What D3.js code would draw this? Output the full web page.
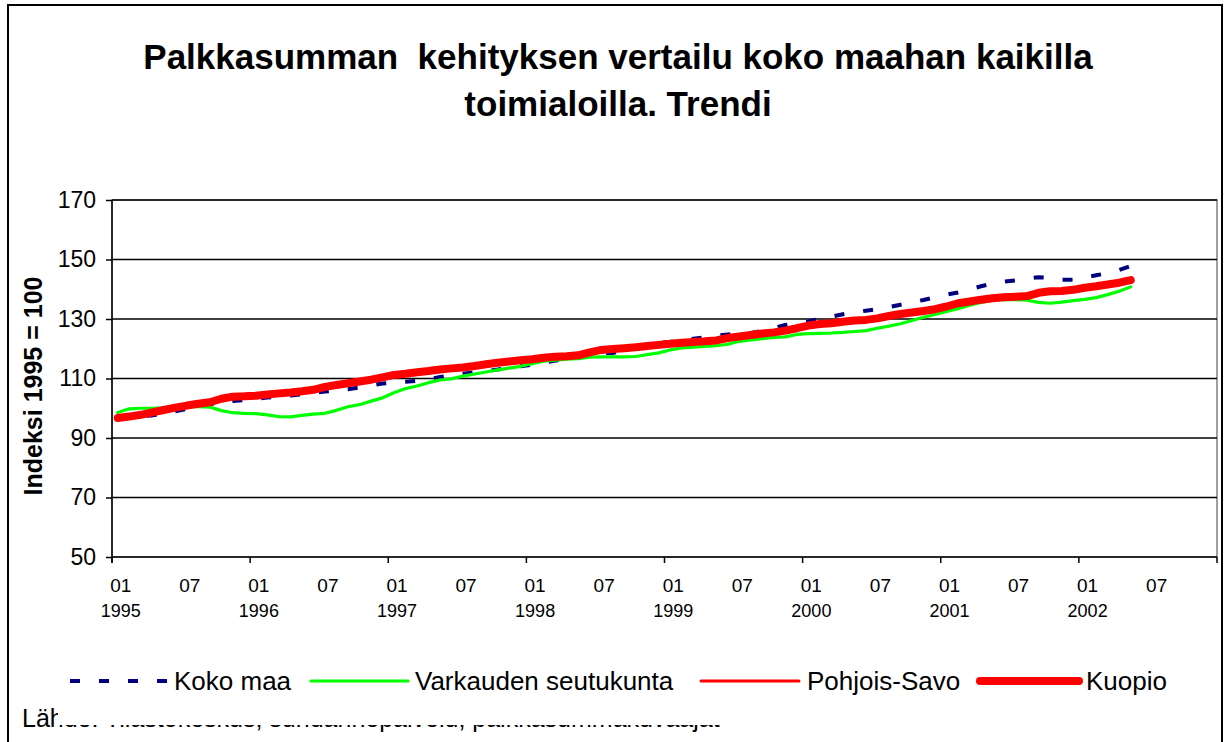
<!DOCTYPE html>
<html>
<head>
<meta charset="utf-8">
<script src="https://cdn.jsdelivr.net/npm/d3@7"></script>
<style>
  body { margin: 0; background: #fff; }
  svg { display: block; font-family: Arial, "Liberation Sans", sans-serif; }
</style>
</head>
<body>
<script>
// data (monthly index, 1995 = 100)
var years = [1995, 1996, 1997, 1998, 1999, 2000, 2001, 2002];
var labelMonths = ["01", "07"];
var yTicks = [50, 70, 90, 110, 130, 150, 170];

var kokoMaa = [96.6, 97.0, 97.4, 97.6, 98.2, 99.0, 99.8, 100.6, 101.3, 101.9, 102.4, 102.8,
  103.2, 103.6, 104.0, 104.3, 104.7, 105.2, 105.6, 106.0, 106.4, 107.0, 107.7, 108.3,
  108.6, 108.9, 109.2, 109.8, 110.5, 111.0, 111.6, 112.1, 112.5, 113.0, 113.6, 114.1,
  114.6, 115.3, 116.0, 116.6, 117.2, 117.8, 118.4, 118.6, 119.3, 120.4, 121.4, 122.0,
  122.3, 122.8, 123.4, 123.8, 124.4, 124.8, 125.0, 125.3, 126.0, 127.0, 128.0, 128.6,
  129.2, 130.0, 130.8, 131.6, 132.2, 132.8, 133.3, 134.0, 134.8, 135.6, 136.4, 137.3,
  138.2, 138.9, 139.9, 141.0, 141.9, 142.6, 143.0, 143.6, 144.0, 143.8, 143.2, 143.2,
  144.0, 144.7, 145.4, 146.5, 147.8];

var varkaus = [98.6, 99.8, 100.0, 100.0, 100.1, 100.3, 100.5, 100.5, 100.4, 99.2, 98.5, 98.3,
  98.2, 97.8, 97.2, 97.1, 97.6, 98.0, 98.3, 99.3, 100.5, 101.2, 102.4, 103.5,
  105.2, 106.6, 107.5, 108.6, 109.5, 109.9, 110.8, 111.5, 112.2, 112.9, 113.5, 114.1,
  115.0, 115.8, 116.2, 116.5, 116.7, 117.2, 117.3, 117.3, 117.3, 117.4, 118.0, 118.6,
  119.6, 120.3, 120.5, 120.8, 121.0, 121.5, 122.5, 123.0, 123.4, 123.8, 124.0, 124.8,
  125.1, 125.2, 125.3, 125.5, 125.8, 126.1, 126.9, 127.6, 128.4, 129.5, 130.6, 131.5,
  132.5, 133.5, 134.6, 135.6, 136.3, 136.6, 136.5, 136.3, 135.6, 135.3, 135.7, 136.2,
  136.6, 137.2, 138.2, 139.3, 140.8];

var pohjoisSavo = [96.6, 97.1, 97.7, 98.5, 99.3, 100.1, 100.8, 101.4, 101.9, 103.0, 103.8, 103.9,
  104.1, 104.5, 104.9, 105.2, 105.6, 106.1, 107.0, 107.7, 108.3, 108.9, 109.5, 110.3,
  111.0, 111.5, 112.0, 112.4, 112.9, 113.3, 113.6, 114.1, 114.7, 115.2, 115.6, 116.0,
  116.4, 116.9, 117.2, 117.4, 117.7, 118.6, 119.4, 119.8, 120.1, 120.4, 120.8, 121.2,
  121.6, 121.9, 122.2, 122.4, 122.7, 123.5, 124.0, 124.5, 125.0, 125.4, 126.0, 126.8,
  127.6, 128.1, 128.5, 129.0, 129.4, 129.6, 130.1, 130.9, 131.6, 132.1, 132.6, 133.2,
  134.1, 135.1, 135.7, 136.3, 136.8, 137.1, 137.3, 137.5, 138.6, 139.1, 139.2, 139.6,
  140.3, 140.8, 141.4, 142.0, 142.9];

var kuopio = [96.7, 97.2, 97.8, 98.6, 99.4, 100.2, 100.9, 101.5, 102.0, 103.2, 103.9, 104.0,
  104.2, 104.6, 105.0, 105.3, 105.7, 106.2, 107.2, 107.8, 108.4, 109.0, 109.6, 110.4,
  111.2, 111.6, 112.1, 112.5, 113.0, 113.4, 113.7, 114.2, 114.8, 115.3, 115.7, 116.1,
  116.5, 117.0, 117.3, 117.5, 117.8, 118.8, 119.6, 119.9, 120.2, 120.5, 120.9, 121.3,
  121.7, 122.0, 122.3, 122.5, 122.8, 123.6, 124.1, 124.6, 125.1, 125.5, 126.1, 126.9,
  127.8, 128.3, 128.6, 129.1, 129.5, 129.7, 130.2, 131.0, 131.7, 132.2, 132.7, 133.3,
  134.2, 135.3, 135.9, 136.5, 137.0, 137.3, 137.5, 137.7, 138.8, 139.3, 139.4, 139.8,
  140.5, 141.0, 141.6, 142.2, 143.1];

var series = [
  { name: "Koko maa", values: kokoMaa, color: "#000080", width: 4, dash: "10,19" },
  { name: "Varkauden seutukunta", values: varkaus, color: "#00ff00", width: 3.2, dash: null },
  { name: "Pohjois-Savo", values: pohjoisSavo, color: "#ff0000", width: 3, dash: null },
  { name: "Kuopio", values: kuopio, color: "#ff0000", width: 8, dash: null }
];

var width = 1225, height = 742;
var plot = { left: 112, right: 1217, top: 200, bottom: 557 };

// one category per month, Jan 1995 .. Dec 2002
var months = [];
years.forEach(function (y) {
  d3.range(1, 13).forEach(function (m) {
    months.push(y + "-" + (m < 10 ? "0" + m : m));
  });
});

var svg = d3.select("body").append("svg")
  .attr("width", width)
  .attr("height", height);

// chart frame
svg.append("rect")
  .attr("x", 8).attr("y", 5)
  .attr("width", 1214).attr("height", 760)
  .attr("fill", "#fff")
  .attr("stroke", "#000")
  .attr("stroke-width", 2);

var x = d3.scaleBand().domain(months).range([plot.left, plot.right]);
var y = d3.scaleLinear().domain([50, 170]).range([plot.bottom, plot.top]);

function cx(i) { return x(months[i]) + x.bandwidth() / 2; }

// title
var title = svg.append("text")
  .attr("text-anchor", "middle")
  .attr("font-size", 35)
  .attr("font-weight", "bold");
title.append("tspan").attr("x", 618).attr("y", 69).text("Palkkasumman  kehityksen vertailu koko maahan kaikilla").attr("xml:space", "preserve");
title.append("tspan").attr("x", 618).attr("y", 116).text("toimialoilla. Trendi");

// plot area border
svg.append("rect")
  .attr("x", plot.left).attr("y", plot.top)
  .attr("width", plot.right - plot.left).attr("height", plot.bottom - plot.top)
  .attr("fill", "#fff")
  .attr("stroke", "#808080")
  .attr("stroke-width", 1.5);

// gridlines
svg.append("g")
  .selectAll("line")
  .data(yTicks.slice(1))
  .enter()
  .append("line")
  .attr("x1", plot.left).attr("x2", plot.right)
  .attr("y1", function (d) { return y(d); })
  .attr("y2", function (d) { return y(d); })
  .attr("stroke", "#000")
  .attr("stroke-width", 1.4);

// y axis
var yAxis = svg.append("g")
  .attr("transform", "translate(" + plot.left + ",0)")
  .call(d3.axisLeft(y).tickValues(yTicks).tickSize(6).tickPadding(10));
yAxis.select(".domain").attr("stroke", "#000").attr("stroke-width", 1.5)
  .attr("d", "M0," + plot.top + "V" + (plot.bottom + 6));
yAxis.selectAll(".tick line").attr("stroke", "#000").attr("stroke-width", 1.5);
yAxis.selectAll(".tick text").attr("font-size", 23).attr("fill", "#000")
  .attr("font-family", "Arial, 'Liberation Sans', sans-serif");

// x axis: ticks between years, labels every 6 months
var xAxis = svg.append("g")
  .attr("transform", "translate(0," + plot.bottom + ")");
xAxis.append("line")
  .attr("x1", plot.left).attr("x2", plot.right)
  .attr("y1", 0).attr("y2", 0)
  .attr("stroke", "#000").attr("stroke-width", 1.5);
xAxis.selectAll(".yt")
  .data(d3.range(0, months.length + 1, 12))
  .enter()
  .append("line")
  .attr("x1", function (i) { return i < months.length ? x(months[i]) : plot.right; })
  .attr("x2", function (i) { return i < months.length ? x(months[i]) : plot.right; })
  .attr("y1", 0).attr("y2", 6)
  .attr("stroke", "#000").attr("stroke-width", 1.5);

var labelIdx = months.map(function (m, i) { return i; })
  .filter(function (i) { return labelMonths.indexOf(months[i].slice(5)) >= 0; });
xAxis.selectAll(".ml")
  .data(labelIdx)
  .enter()
  .append("text")
  .attr("x", function (i) { return cx(i) + 3; })
  .attr("y", 35)
  .attr("text-anchor", "middle")
  .attr("font-size", 19)
  .text(function (i) { return months[i].slice(5); });
xAxis.selectAll(".yl")
  .data(labelIdx.filter(function (i) { return months[i].slice(5) === "01"; }))
  .enter()
  .append("text")
  .attr("x", function (i) { return cx(i) + 3; })
  .attr("y", 60)
  .attr("text-anchor", "middle")
  .attr("font-size", 18)
  .text(function (i) { return months[i].slice(0, 4); });

// y axis title
svg.append("text")
  .attr("transform", "translate(42,386) rotate(-90)")
  .attr("text-anchor", "middle")
  .attr("font-size", 25)
  .attr("font-weight", "bold")
  .text("Indeksi 1995 = 100");

// lines
var line = d3.line()
  .x(function (d, i) { return cx(i); })
  .y(function (d) { return y(d); });

svg.append("g")
  .selectAll("path")
  .data(series)
  .enter()
  .append("path")
  .attr("d", function (s) { return line(s.values); })
  .attr("fill", "none")
  .attr("stroke", function (s) { return s.color; })
  .attr("stroke-width", function (s) { return s.width; })
  .attr("stroke-dasharray", function (s) { return s.dash; })
  .attr("stroke-linejoin", "round")
  .attr("stroke-linecap", function (s) { return s.dash ? "butt" : "round"; });

// source text, mostly hidden by the legend box
svg.append("text")
  .attr("x", 22).attr("y", 727)
  .attr("font-size", 25)
  .text("Lähde: Tilastokeskus, suhdannepalvelu, palkkasummakuvaajat");

// legend
var legend = svg.append("g");
legend.append("rect")
  .attr("x", 58).attr("y", 648)
  .attr("width", 1132).attr("height", 77)
  .attr("fill", "#fff");

var legendPos = [
  { sx: 70, ex: 170, tx: 174 },
  { sx: 311, ex: 408, tx: 415 },
  { sx: 701, ex: 799, tx: 807 },
  { sx: 980, ex: 1079, tx: 1086 }
];

series.forEach(function (s, k) {
  var p = legendPos[k];
  legend.append("line")
    .attr("x1", p.sx).attr("x2", p.ex)
    .attr("y1", 681).attr("y2", 681)
    .attr("stroke", s.color)
    .attr("stroke-width", s.width)
    .attr("stroke-dasharray", s.dash ? "10,19" : null)
    .attr("stroke-linecap", s.dash ? "butt" : "round");
  legend.append("text")
    .attr("x", p.tx).attr("y", 690)
    .attr("font-size", 26)
    .text(s.name);
});
</script>
</body>
</html>
